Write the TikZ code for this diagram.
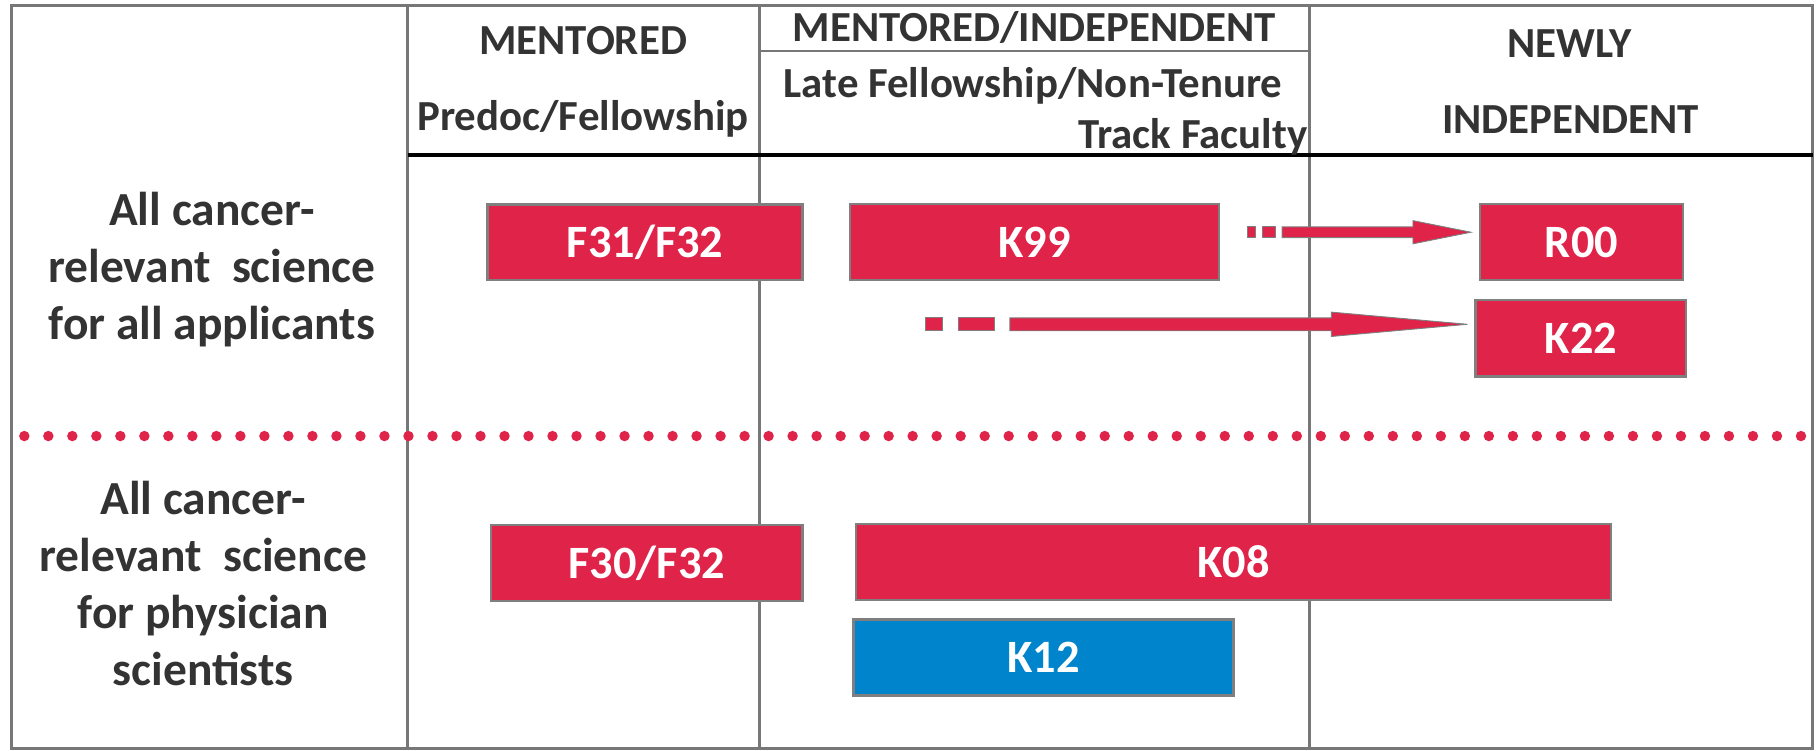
\documentclass[tikz,border=0pt]{standalone}
\usepackage{fontspec}
\setmainfont{Carlito}
\usetikzlibrary{calc}
\definecolor{grantred}{HTML}{DF2349}
\definecolor{grantblue}{HTML}{0085CC}
\definecolor{rulegray}{HTML}{777777}
\definecolor{boxedge}{HTML}{7F7F7F}
\definecolor{ink}{HTML}{333333}

\begin{document}
\begin{tikzpicture}[x=1pt,y=-1pt,
  grant/.style={draw=boxedge, line width=2pt, inner sep=0pt, text=white,
    font=\fontsize{40}{48}\selectfont\bfseries},
  redgrant/.style={grant, fill=grantred},
  bluegrant/.style={grant, fill=grantblue},
  head/.style={inner sep=0pt, text=ink, anchor=base,
    font=\fontsize{37}{44}\selectfont\bfseries},
  rowlabel/.style={inner sep=0pt, text=ink, align=center,
    font=\fontsize{41}{49.3}\selectfont\bfseries},
  gridline/.style={draw=rulegray, line width=2.5pt},
  flow/.style={fill=grantred, draw=boxedge, line width=0.8pt},
]
\useasboundingbox (0,0) rectangle (1568,648);

% table frame and column rules
\draw[gridline] (10,4.5) rectangle (1565,646.5);
\draw[gridline] (352,4.5) -- (352,646.5);
\draw[gridline] (655.5,4.5) -- (655.5,646.5);
\draw[gridline] (1130.5,4.5) -- (1130.5,646.5);
\draw[gridline] (655.5,44) -- (1130.5,44);
\draw[black, line width=3.5pt] (352,134) -- (1565,134);

% column headings
\node[head] (hment) at (503.5,47) {MENTORED};
\node[head] (hpredoc) at (503.5,112.5) {Predoc/Fellowship};
\node[head] (hmi) at (893,36) {MENTORED/INDEPENDENT};
\node[head] (hlate) at (892,84) {Late Fellowship/Non-Tenure};
\node[head, anchor=base east] (htrack) at (1129,128) {Track Faculty};
\node[head] (hnewly) at (1355,49.5) {NEWLY};
\node[head] (hindep) at (1356,115.5) {INDEPENDENT};

% row headings
\node[rowlabel] (rowall) at (183,233) {All cancer-\\relevant~~science\\for all applicants};
\node[rowlabel] (rowphys) at (175.5,504) {All cancer-\\relevant~~science\\for physician\\scientists};

% separator between the two rows
\draw[grantred, line width=9pt, line cap=round, dash pattern=on 0pt off 20.73pt]
  (21,376.5) -- (1556,376.5);

% award boxes
\node[redgrant, minimum width=272pt, minimum height=65.5pt] (f31) at (557,209.25) {F31/F32};
\node[redgrant, minimum width=318.5pt, minimum height=66pt] (k99) at (893.25,209) {K99};
\node[redgrant, minimum width=175pt, minimum height=66pt] (r00) at (1365.5,209) {R00};
\node[redgrant, minimum width=182pt, minimum height=66pt] (k22) at (1365,292) {K22};
\node[redgrant, minimum width=269pt, minimum height=65.5pt] (f30) at (558.5,486.25) {F30/F32};
\node[redgrant, minimum width=652pt, minimum height=65.5pt] (k08) at (1065,485.25) {K08};
\node[bluegrant, minimum width=328pt, minimum height=65.5pt] (k12) at (901,567.75) {K12};

% transition arrows with broken tails
\coordinate (k99tail) at (1077.5,200.5);
\coordinate (k22tail) at (799,280);
\begin{scope}[shift={(k99tail)}]
  \filldraw[flow] (0,-4.6) rectangle (6.5,4.6);
  \filldraw[flow] (12.5,-4.6) rectangle (24,4.6);
  \filldraw[flow] (29.5,-4.6) -- (142.5,-4.6) -- (142.5,-10) -- (192.5,0)
    -- (142.5,10) -- (142.5,4.6) -- (29.5,4.6) -- cycle;
\end{scope}
\begin{scope}[shift={(k22tail)}]
  \filldraw[flow] (0,-5.6) rectangle (15,5.6);
  \filldraw[flow] (28.7,-5.6) rectangle (59.4,5.6);
  \filldraw[flow] (73,-5.6) -- (350.6,-5.6) -- (350.6,-10.5) -- (468,0)
    -- (350.6,10.5) -- (350.6,5.6) -- (73,5.6) -- cycle;
\end{scope}
\end{tikzpicture}
\end{document}
